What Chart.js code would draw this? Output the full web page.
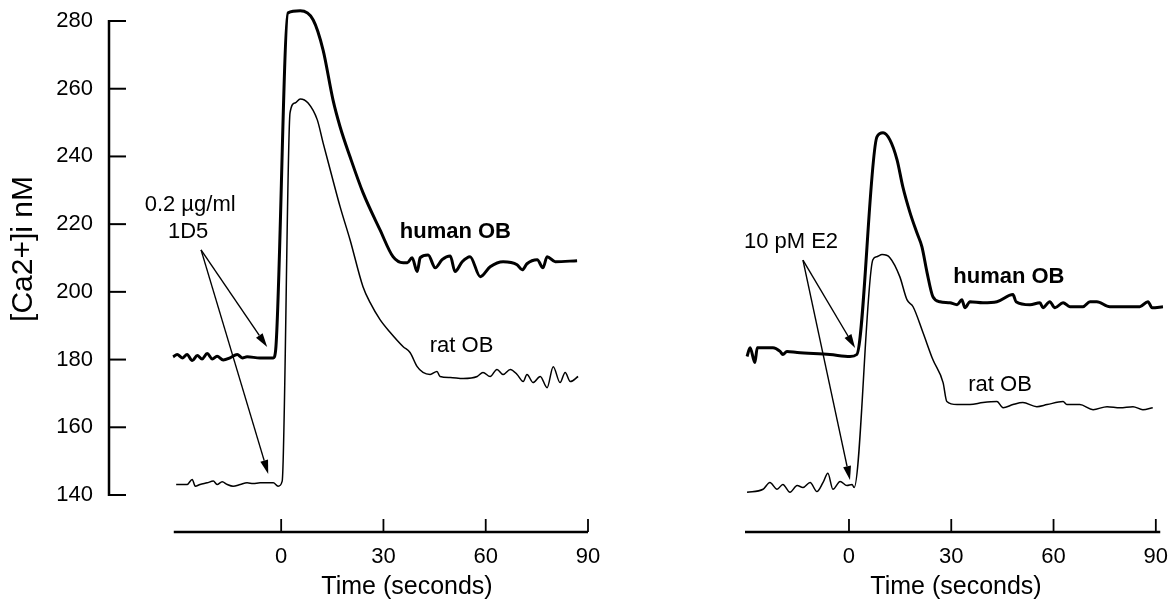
<!DOCTYPE html>
<html>
<head>
<meta charset="utf-8">
<title>[Ca2+]i response</title>
<script src="https://cdn.jsdelivr.net/npm/chart.js@4.4.1/dist/chart.umd.min.js"></script>
<style>
  body { margin: 0; background: #fff; }
  #wrap { position: relative; width: 1175px; height: 611px; }
  #wrap canvas { position: absolute; left: 0; top: 0; }
</style>
</head>
<body>
<div id="wrap">
  <canvas id="js--chart-left" width="1175" height="611"></canvas>
  <canvas id="js--chart-right" width="1175" height="611"></canvas>
</div>
<script>
// axis ticks
const xTicks = [0, 30, 60, 90];
const yTicks = [140, 160, 180, 200, 220, 240, 260, 280];

// left panel: 0.2 µg/ml 1D5
const leftHumanTime = [-31.7, -30.5, -29.0, -27.6, -26.1, -24.6, -23.2, -21.7, -20.2, -18.8, -17.0, -15.0, -12.9, -11.4, -10.0, -6.2, -2.3,
  -1.6, 2.0, 5.6, 9.4, 12.3, 15.2, 17.3, 20.2, 24.0, 29.0, 32.8, 35.8,
  37.0, 38.4, 39.9, 40.8, 43.1, 45.2, 47.2, 49.6, 51.0, 53.1, 55.4, 58.4, 61.3, 65.1, 69.2, 70.7, 72.1, 75.1, 76.8, 78.0, 80.4, 86.8];
const leftHumanCa = [180.8, 181.5, 180.5, 181.5, 179.7, 181.2, 180.2, 181.8, 180.2, 181.0, 179.9, 180.5, 181.5, 180.5, 180.8, 180.5, 180.5,
  183.0, 282.4, 283.0, 280.3, 271.4, 256.7, 248.7, 239.9, 229.3, 218.3, 210.4, 208.6,
  208.6, 210.1, 206.0, 210.1, 210.9, 207.1, 209.5, 210.6, 206.0, 208.9, 210.4, 204.5, 207.4, 208.9, 208.0, 206.5, 208.3, 209.5, 207.1, 210.4, 208.9, 209.2];

const leftRatTime = [-30.8, -27.6, -26.1, -25.2, -23.8, -21.7, -19.9, -18.8, -17.3, -15.8, -14.1, -12.0, -10.0, -8.2, -6.2, -4.1, -2.3, -0.9, 0.3,
  2.6, 4.1, 5.6, 7.9, 10.6, 12.3, 14.4, 17.3, 20.2, 24.0,
  26.1, 29.0, 32.0, 35.8, 37.8, 39.9, 41.6, 43.7,
  45.7, 46.6, 49.6, 53.4, 57.5, 59.2, 61.3, 63.3, 65.1, 67.2, 69.2, 71.0, 72.1, 73.9, 76.0, 78.0, 79.8, 81.8, 83.3, 84.8, 87.1];
const leftRatCa = [143.1, 143.1, 144.6, 142.6, 143.1, 143.6, 144.1, 143.1, 143.9, 143.1, 142.6, 143.1, 143.6, 143.4, 143.6, 143.6, 143.6, 142.6, 144.1,
  252.9, 255.8, 257.0, 255.8, 250.8, 244.0, 236.0, 225.1, 215.4, 201.5,
  196.8, 191.8, 188.0, 183.8, 182.1, 177.9, 176.2, 175.6,
  176.5, 175.0, 174.7, 174.4, 175.0, 176.2, 175.0, 177.1, 175.6, 177.1, 175.6, 173.5, 175.6, 173.2, 175.0, 171.7, 177.9, 173.2, 176.2, 173.5, 175.0];

// right panel: 10 pM E2
const rightHumanTime = [-29.9, -29.0, -27.6, -26.9, -25.2, -22.3, -20.2, -19.4, -18.2, -15.2, -5.6, 0.3, 2.3,
  8.2, 10.0, 12.0, 14.1, 15.8, 17.9, 19.9, 21.4, 22.9, 24.6,
  26.7, 29.6, 31.7, 33.1, 34.0, 35.5, 39.3, 43.4, 48.1, 49.0, 53.1, 56.0, 56.9, 58.9, 60.4, 62.8, 64.8, 68.6, 70.7, 72.7, 76.5, 80.4, 85.3, 87.7, 88.9, 92.1];
const rightHumanCa = [180.9, 183.5, 179.1, 183.5, 183.5, 183.5, 182.4, 181.5, 182.4, 182.1, 181.5, 180.9, 181.5,
  245.8, 247.0, 244.9, 239.0, 231.0, 223.4, 217.5, 213.3, 205.7, 198.6,
  197.1, 196.8, 196.2, 197.7, 195.3, 197.1, 196.8, 197.1, 199.2, 197.1, 196.2, 196.8, 195.3, 197.1, 195.3, 196.8, 195.6, 195.6, 197.1, 197.1, 195.6, 195.6, 195.6, 197.1, 195.3, 195.6];

const rightRatTime = [-29.9, -25.2, -23.2, -21.1, -19.4, -17.3, -15.2, -13.5, -11.4, -9.4, -7.6, -6.2, -4.7, -2.6, -0.6, 0.9, 1.5,
  7.0, 8.2, 9.7, 12.0, 14.9, 17.0, 18.8, 21.7, 24.6, 27.6,
  28.7, 31.7, 35.5, 39.3, 43.4, 45.2, 48.1, 51.0, 55.1, 58.1, 62.8, 63.9, 67.7, 71.6, 75.7, 79.5, 83.3, 86.2, 89.1];
const rightRatCa = [140.8, 141.7, 143.7, 141.7, 143.1, 140.8, 142.8, 142.2, 143.7, 141.0, 143.7, 146.4, 141.7, 144.0, 142.8, 143.1, 142.2,
  209.5, 210.4, 211.0, 210.1, 204.5, 197.7, 195.6, 188.0, 180.0, 173.2,
  167.6, 166.7, 166.7, 167.3, 167.6, 165.8, 166.7, 167.3, 166.1, 166.7, 167.6, 166.7, 166.7, 165.2, 166.1, 165.8, 166.1, 165.2, 165.8];

const FONT = '"Liberation Sans", Arial, Helvetica, sans-serif';
Chart.defaults.font.family = FONT;
Chart.defaults.color = '#000';

function toPoints(times, values) {
  return times.map((t, i) => ({ x: t, y: values[i] }));
}

function drawArrow(ctx, x1, y1, x2, y2) {
  const ang = Math.atan2(y2 - y1, x2 - x1);
  const head = 14, half = 4;
  const bx = x2 - head * Math.cos(ang), by = y2 - head * Math.sin(ang);
  ctx.beginPath();
  ctx.moveTo(x1, y1);
  ctx.lineTo(bx, by);
  ctx.stroke();
  ctx.beginPath();
  ctx.moveTo(x2, y2);
  ctx.lineTo(bx + half * Math.sin(ang), by - half * Math.cos(ang));
  ctx.lineTo(bx - half * Math.sin(ang), by + half * Math.cos(ang));
  ctx.closePath();
  ctx.fill();
}

// axes with inward ticks, titles, arrows and curve labels
const framePlugin = {
  id: 'frame',
  afterDraw(chart, args, opts) {
    const { ctx, chartArea } = chart;
    const xs = chart.scales.x, ys = chart.scales.y;
    ctx.save();
    ctx.strokeStyle = '#000';
    ctx.fillStyle = '#000';

    const yb = chartArea.bottom;
    ctx.lineWidth = 2.5;
    ctx.beginPath();
    ctx.moveTo(xs.getPixelForValue(opts.axisFrom), yb);
    ctx.lineTo(xs.getPixelForValue(opts.axisTo), yb);
    ctx.stroke();
    ctx.lineWidth = 1.8;
    xTicks.forEach(v => {
      const px = xs.getPixelForValue(v);
      ctx.beginPath();
      ctx.moveTo(px, yb);
      ctx.lineTo(px, yb - 13);
      ctx.stroke();
    });

    if (opts.yAxis) {
      const xl = chartArea.left;
      ctx.lineWidth = 2.5;
      ctx.beginPath();
      ctx.moveTo(xl, ys.getPixelForValue(yTicks[0]) + 1);
      ctx.lineTo(xl, ys.getPixelForValue(yTicks[yTicks.length - 1]) - 1);
      ctx.stroke();
      ctx.lineWidth = 2;
      yTicks.forEach(v => {
        const py = ys.getPixelForValue(v);
        ctx.beginPath();
        ctx.moveTo(xl, py);
        ctx.lineTo(xl + 17, py);
        ctx.stroke();
      });
      ctx.save();
      ctx.translate(24, 249);
      ctx.rotate(-Math.PI / 2);
      ctx.font = '30px ' + FONT;
      ctx.textAlign = 'center';
      ctx.textBaseline = 'middle';
      ctx.fillText('[Ca2+]i nM', 0, 0);
      ctx.restore();
    }

    ctx.textAlign = 'center';
    ctx.textBaseline = 'middle';
    ctx.font = '25px ' + FONT;
    ctx.fillText('Time (seconds)', opts.titleX, 587);

    ctx.lineWidth = 1.4;
    opts.arrows.forEach(a => {
      drawArrow(ctx, xs.getPixelForValue(a.from[0]), ys.getPixelForValue(a.from[1]),
        xs.getPixelForValue(a.to[0]), ys.getPixelForValue(a.to[1]));
    });

    opts.labels.forEach(l => {
      ctx.font = (l.bold ? 'bold ' : '') + '22px ' + FONT;
      ctx.fillText(l.text, xs.getPixelForValue(l.x), ys.getPixelForValue(l.y));
    });
    ctx.restore();
  }
};

function makeDatasets(humanT, humanCa, ratT, ratCa) {
  return [
    { label: 'human OB', data: toPoints(humanT, humanCa), borderColor: '#000', borderWidth: 3, borderJoinStyle: 'round',
      pointRadius: 0, cubicInterpolationMode: 'monotone', clip: false },
    { label: 'rat OB', data: toPoints(ratT, ratCa), borderColor: '#000', borderWidth: 1.5, borderJoinStyle: 'round',
      pointRadius: 0, cubicInterpolationMode: 'monotone', clip: false }
  ];
}

function makeScales(xMin, xMax, showY) {
  return {
    x: {
      type: 'linear', min: xMin, max: xMax,
      afterBuildTicks: s => { s.ticks = xTicks.map(v => ({ value: v })); },
      afterFit: s => { s.height = 79; s.paddingLeft = 0; s.paddingRight = 0; },
      grid: { display: false, drawTicks: false, tickLength: 0 },
      border: { display: false },
      ticks: { padding: 12, font: { size: 22 }, maxRotation: 0, autoSkip: false }
    },
    y: {
      type: 'linear', display: showY, min: 129.07, max: 284.73,
      afterBuildTicks: s => { s.ticks = yTicks.map(v => ({ value: v })); },
      afterFit: s => {
        s.width = showY ? 109 : 0;
        s.paddingTop = 0;
        s.paddingBottom = 0;
      },
      grid: { display: false, drawTicks: false, tickLength: 0 },
      border: { display: false },
      ticks: { padding: 16, font: { size: 22 }, autoSkip: false }
    }
  };
}

const leftChart = new Chart(document.getElementById('js--chart-left'), {
  type: 'line',
  data: { datasets: makeDatasets(leftHumanTime, leftHumanCa, leftRatTime, leftRatCa) },
  options: {
    responsive: false, animation: false, events: [],
    layout: { padding: { left: 0, right: 587, top: 5, bottom: 0 } },
    scales: makeScales(-50.5, 90, true),
    plugins: {
      legend: { display: false },
      tooltip: { enabled: false },
      frame: {
        yAxis: true, axisFrom: -31.5, axisTo: 90, titleX: 407,
        arrows: [
          { from: [-23.5, 212.4], to: [-4.1, 183.7] },
          { from: [-23.5, 212.4], to: [-3.8, 146.2] }
        ],
        labels: [
          { text: '0.2 µg/ml', x: -26.7, y: 225.7 },
          { text: '1D5', x: -27.3, y: 217.7 },
          { text: 'human OB', x: 51.1, y: 217.7, bold: true },
          { text: 'rat OB', x: 52.9, y: 184.0 }
        ]
      }
    }
  },
  plugins: [framePlugin]
});

const rightChart = new Chart(document.getElementById('js--chart-right'), {
  type: 'line',
  data: { datasets: makeDatasets(rightHumanTime, rightHumanCa, rightRatTime, rightRatCa) },
  options: {
    responsive: false, animation: false, events: [],
    layout: { padding: { left: 745, right: 11, top: 5, bottom: 0 } },
    scales: makeScales(-30.5, 92.4, false),
    plugins: {
      legend: { display: false },
      tooltip: { enabled: false },
      frame: {
        yAxis: false, axisFrom: -30.5, axisTo: 91.3, titleX: 956,
        arrows: [
          { from: [-13.5, 209.4], to: [1.8, 183.4] },
          { from: [-13.5, 209.4], to: [0.3, 144.4] }
        ],
        labels: [
          { text: '10 pM E2', x: -17.0, y: 214.7 },
          { text: 'human OB', x: 46.9, y: 204.4, bold: true },
          { text: 'rat OB', x: 44.3, y: 172.5 }
        ]
      }
    }
  },
  plugins: [framePlugin]
});
</script>
</body>
</html>
